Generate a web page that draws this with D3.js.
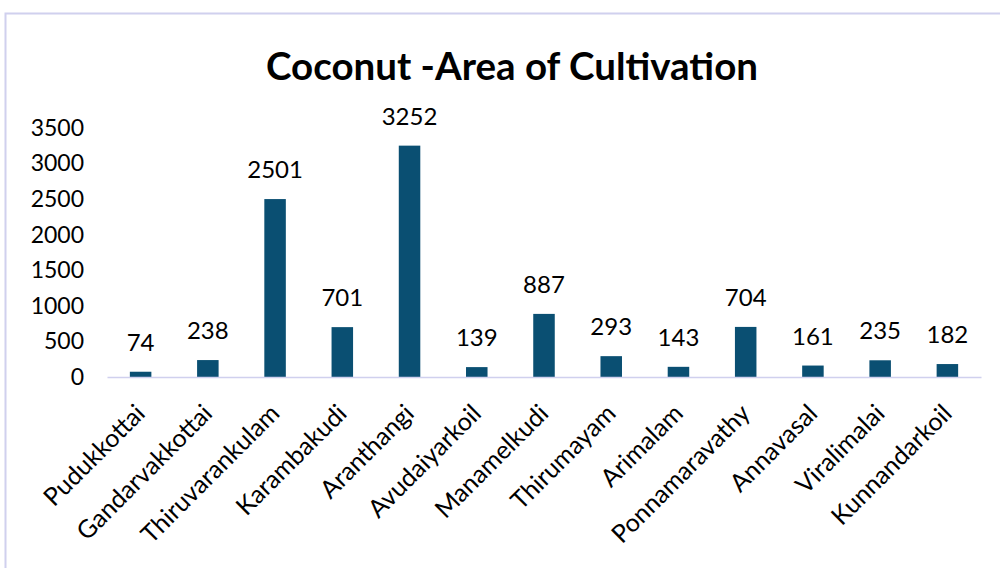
<!DOCTYPE html>
<html><head><meta charset="utf-8">
<script src="https://cdn.jsdelivr.net/npm/d3@7"></script>
<style>body{margin:0;background:#fff}svg{display:block}</style>
</head><body><svg width="1000" height="568"></svg>
<script>
const categories = ["Pudukkottai","Gandarvakkottai","Thiruvarankulam","Karambakudi","Aranthangi","Avudaiyarkoil","Manamelkudi","Thirumayam","Arimalam","Ponnamaravathy","Annavasal","Viralimalai","Kunnandarkoil"];
const values = [74,238,2501,701,3252,139,887,293,143,704,161,235,182];
const yTicks = [0,500,1000,1500,2000,2500,3000,3500];
const title = "Coconut -Area of Cultivation";

const svg = d3.select("svg");
const font = "Lato, 'Open Sans', sans-serif";
// border
svg.append("path").attr("d","M5.5,568 L5.5,13.5 L1000,13.5").attr("fill","none").attr("stroke","#d0d0ee").attr("stroke-width",2);

const x = d3.scaleBand().domain(categories).range([107,981]).paddingInner(0.68).paddingOuter(0.34);
const y = d3.scaleLinear().domain([0,3500]).range([377,128]);

svg.append("text").attr("x",512).attr("y",80).attr("text-anchor","middle")
  .attr("font-family",font).attr("font-weight","bold").attr("font-size",38.5).attr("fill","#000").text(title);

// y axis labels
const yAxis = d3.axisLeft(y).tickValues(yTicks).tickSize(0).tickPadding(0).tickFormat(d3.format("d"));
const ya = svg.append("g").attr("transform","translate(84,0)").call(yAxis);
ya.select(".domain").remove();
ya.selectAll("text").attr("font-family",font).attr("font-size",23).attr("fill","#000");

// bars
svg.selectAll("rect.bar").data(values).join("rect").attr("class","bar")
  .attr("x",(d,i)=>x(categories[i])).attr("width",x.bandwidth())
  .attr("y",d=>y(d)).attr("height",d=>y(0)-y(d)).attr("fill","#0a4f72");

// x axis
const xAxis = d3.axisBottom(x).tickSize(0).tickPadding(0);
const xa = svg.append("g").attr("transform","translate(0,377)").call(xAxis);
xa.select(".domain").attr("stroke","#d0d0ee").attr("stroke-width",1.5);
xa.selectAll("text").attr("font-family",font).attr("font-size",25).attr("fill","#000")
  .attr("text-anchor","end").attr("y",0).attr("dy",0)
  .attr("transform","translate(6,38) rotate(-45)");

// value labels
svg.selectAll("text.val").data(values).join("text").attr("class","val")
  .attr("x",(d,i)=>x(categories[i])+x.bandwidth()/2).attr("y",d=>y(d)-21)
  .attr("text-anchor","middle").attr("font-family",font).attr("font-size",24).attr("fill","#000")
  .text(d=>d);
</script></body></html>
